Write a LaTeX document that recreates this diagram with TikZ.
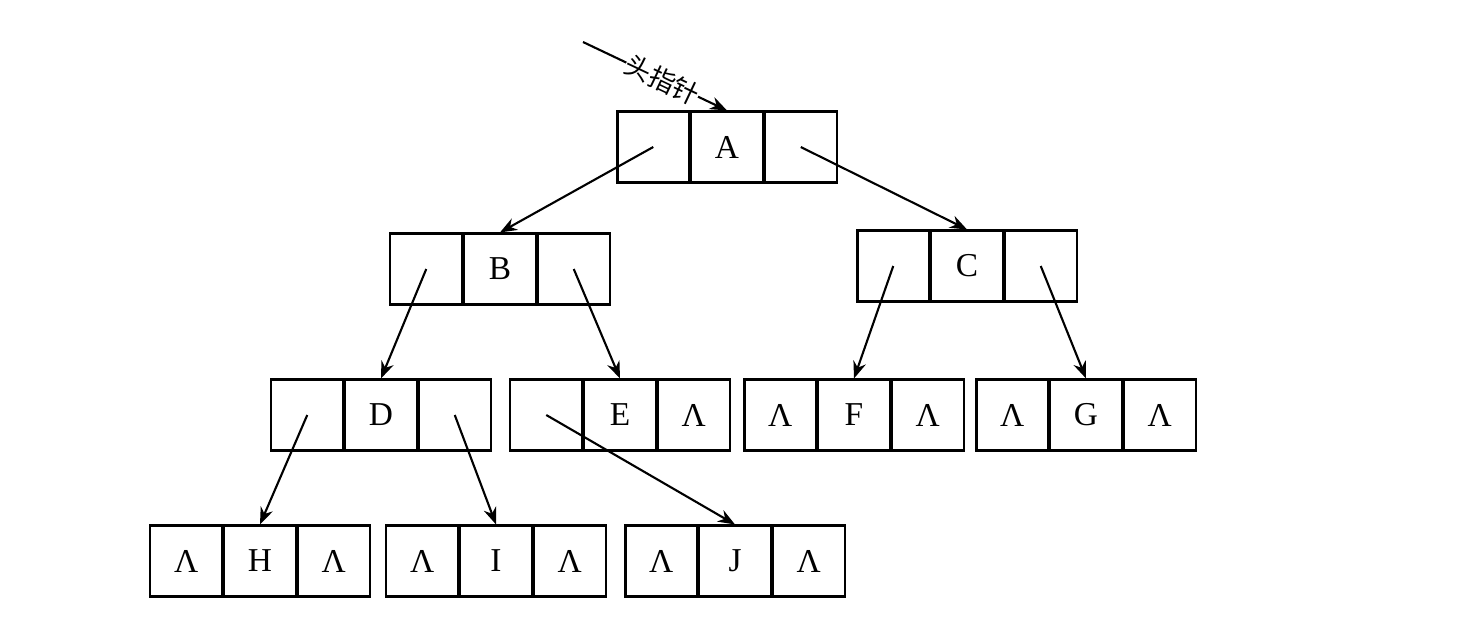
\documentclass[tikz,border=0pt]{standalone}
\usepackage{fontspec}
\setmainfont{Liberation Serif}
\newfontfamily\cjk{Noto Sans CJK SC}
\usetikzlibrary{arrows.meta,positioning}

\begin{document}
\begin{tikzpicture}[x=0.02cm,y=-0.02cm,>={Stealth[length=3.4mm,width=2.6mm]},
    cell/.style={draw,line width=1.2pt,minimum width=1.433cm,minimum height=1.42cm,
      inner sep=0pt,font=\fontsize{19}{22}\selectfont},
    link/.style={->,line width=1.2pt}]
  \useasboundingbox (0,0) rectangle (1470,616);
  % records: name / x / y / left field / right field
  \foreach \n/\x/\y/\l/\r in {A/727/147/{}/{},B/500/269/{}/{},C/967/266/{}/{},
      D/381/415/{}/{},E/620/415/{}/Λ,F/854/415/Λ/Λ,G/1086/415/Λ/Λ,
      H/260/561/Λ/Λ,I/496/561/Λ/Λ,J/735/561/Λ/Λ}{
    \node[cell] (\n) at (\x,\y) {\n};
    \node[cell,left=0pt of \n] (\n l) {\l};
    \node[cell,right=0pt of \n] (\n r) {\r};
  }
  \coordinate (head) at (583,42);
  \draw[link] (head) -- (A.north)
    node[pos=.55,sloped,fill=white,inner sep=0pt,font=\cjk\fontsize{15}{17}\selectfont] {头指针};
  \draw[link] (Al.center) -- (B.north);
  \draw[link] (Ar.center) -- (C.north);
  \draw[link] (Bl.center) -- (D.north);
  \draw[link] (Br.center) -- (E.north);
  \draw[link] (Cl.center) -- (F.north);
  \draw[link] (Cr.center) -- (G.north);
  \draw[link] (Dl.center) -- (H.north);
  \draw[link] (Dr.center) -- (I.north);
  \draw[link] (El.center) -- (J.north);
\end{tikzpicture}
\end{document}
